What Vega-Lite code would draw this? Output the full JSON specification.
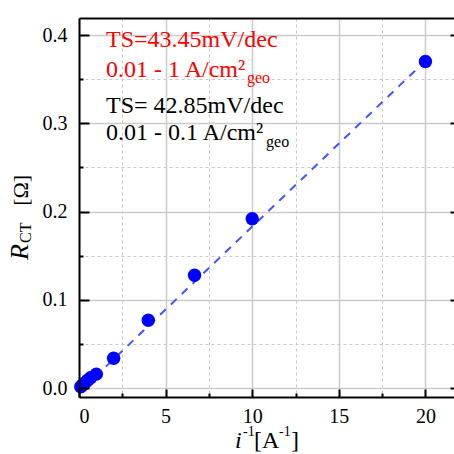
{
  "$schema": "https://vega.github.io/schema/vega-lite/v6.json",
  "width": 375,
  "height": 379,
  "autosize": {"type": "none"},
  "padding": {"left": 79, "top": 18, "right": 0, "bottom": 57},
  "background": "white",
  "config": {
    "view": {"stroke": null},
    "font": "Liberation Serif",
    "text": {"font": "Liberation Serif"},
    "style": {"guide-label": {"font": "Liberation Serif"}},
    "axis": {"labelFont": "Liberation Serif", "title": null}
  },
  "datasets": {
    "pts": [
      {"x": 0.1, "y": 0.0018},
      {"x": 0.2, "y": 0.0035},
      {"x": 0.33, "y": 0.006},
      {"x": 0.5, "y": 0.009},
      {"x": 0.67, "y": 0.012},
      {"x": 1.0, "y": 0.016},
      {"x": 2.0, "y": 0.034},
      {"x": 4.0, "y": 0.077},
      {"x": 6.67, "y": 0.128},
      {"x": 10.0, "y": 0.192},
      {"x": 20.0, "y": 0.37}
    ],
    "fit": [{"x": 0.3, "y": 0.001}, {"x": 19.6, "y": 0.3633}],
    "redBig": [
      {"x": 1.56, "y": 0.3869, "t": "TS=43.45mV/dec"},
      {"x": 1.56, "y": 0.3529, "t": "0.01 - 1 A/cm²"}
    ],
    "redSub": [{"x": 9.7, "y": 0.3457, "t": "geo"}],
    "blackBig": [
      {"x": 1.56, "y": 0.3118, "t": "TS= 42.85mV/dec"},
      {"x": 1.56, "y": 0.2812, "t": "0.01 - 0.1 A/cm²"}
    ],
    "blackSub": [{"x": 10.8, "y": 0.2733, "t": "geo"}],
    "yTitleItalic": [{"x": -2.95, "y": 0.1453, "t": "R"}],
    "yTitleSub": [{"x": -2.8, "y": 0.1646, "t": "CT"}],
    "yTitleRest": [{"x": -2.95, "y": 0.2066, "t": "[Ω]"}],
    "xTitleItalic": [{"x": 9.01, "y": -0.0676, "t": "i"}],
    "xTitleSup": [{"x": 9.47, "y": -0.0545, "t": "-1"}, {"x": 11.55, "y": -0.0545, "t": "-1"}],
    "xTitleRest": [{"x": 10.1, "y": -0.0676, "t": "[A"}, {"x": 12.24, "y": -0.0676, "t": "]"}]
  },
  "resolve": {"axis": {"x": "independent", "y": "independent"}},
  "layer": [
    {
      "data": {"name": "fit"},
      "mark": {"type": "line", "color": "#4455ff", "strokeWidth": 2, "strokeDash": [8, 7]},
      "encoding": {
        "x": {"field": "x", "type": "quantitative", "scale": {"domain": [0, 21.65], "nice": false, "zero": false},
          "axis": {"orient": "bottom", "values": [0, 5, 10, 15, 20], "labels": false, "domain": false, "ticks": false,
            "grid": true, "gridColor": "#cccccc", "gridWidth": 1.5, "zindex": 0}},
        "y": {"field": "y", "type": "quantitative", "scale": {"domain": [-0.0099, 0.4193], "nice": false, "zero": false},
          "axis": {"orient": "left", "values": [0, 0.1, 0.2, 0.3, 0.4], "labels": false, "domain": false, "ticks": false,
            "grid": true, "gridColor": "#cccccc", "gridWidth": 1.5, "zindex": 0}}
      }
    },
    {
      "data": {"name": "pts"},
      "mark": {"type": "point", "filled": true, "color": "#0000ff", "opacity": 1, "size": 180},
      "encoding": {
        "x": {"field": "x", "type": "quantitative",
          "axis": {"orient": "bottom", "values": [2.5, 7.5, 12.5, 17.5], "labels": false, "domain": false,
            "ticks": true, "tickColor": "black", "tickWidth": 2, "tickSize": -4,
            "grid": true, "gridColor": "#c8c8c8", "gridWidth": 1, "gridDash": [3, 3], "zindex": 0}},
        "y": {"field": "y", "type": "quantitative",
          "axis": {"orient": "left", "values": [0.05, 0.15, 0.25, 0.35], "labels": false, "domain": false,
            "ticks": true, "tickColor": "black", "tickWidth": 2, "tickSize": -4,
            "grid": true, "gridColor": "#c8c8c8", "gridWidth": 1, "gridDash": [3, 3], "zindex": 0}}
      }
    },
    {
      "data": {"name": "redBig"},
      "mark": {"type": "text", "align": "left", "baseline": "alphabetic", "font": "Liberation Serif", "fontSize": 24, "color": "#ff0000"},
      "encoding": {
        "x": {"field": "x", "type": "quantitative",
          "axis": {"orient": "top", "values": [], "labels": false, "ticks": false, "grid": false, "domain": true, "domainColor": "black", "domainWidth": 2, "zindex": 1}},
        "y": {"field": "y", "type": "quantitative",
          "axis": {"orient": "right", "values": [0, 0.1, 0.2, 0.3, 0.4], "labels": false, "domain": false, "grid": false,
            "ticks": true, "tickColor": "black", "tickWidth": 2, "tickSize": -4, "zindex": 1}},
        "text": {"field": "t"}
      }
    },
    {
      "data": {"name": "redSub"},
      "mark": {"type": "text", "align": "left", "baseline": "alphabetic", "font": "Liberation Serif", "fontSize": 16, "color": "#ff0000"},
      "encoding": {
        "x": {"field": "x", "type": "quantitative",
          "axis": {"orient": "bottom", "values": [0, 5, 10, 15, 20], "format": "d", "labelFont": "Liberation Serif", "labelFontSize": 20, "labelColor": "black", "labelPadding": 17,
            "domain": true, "domainColor": "black", "domainWidth": 2, "ticks": true, "tickColor": "black", "tickWidth": 2, "tickSize": -8,
            "grid": false, "zindex": 1}},
        "y": {"field": "y", "type": "quantitative",
          "axis": {"orient": "left", "values": [0, 0.1, 0.2, 0.3, 0.4], "format": ".1f", "labelFont": "Liberation Serif", "labelFontSize": 20, "labelColor": "black", "labelPadding": 22,
            "domain": true, "domainColor": "black", "domainWidth": 2, "ticks": true, "tickColor": "black", "tickWidth": 2, "tickSize": -10,
            "grid": false, "zindex": 1}},
        "text": {"field": "t"}
      }
    },
    {
      "data": {"name": "blackBig"},
      "mark": {"type": "text", "align": "left", "baseline": "alphabetic", "font": "Liberation Serif", "fontSize": 24, "color": "black"},
      "encoding": {
        "x": {"field": "x", "type": "quantitative", "axis": null},
        "y": {"field": "y", "type": "quantitative", "axis": null},
        "text": {"field": "t"}
      }
    },
    {
      "data": {"name": "blackSub"},
      "mark": {"type": "text", "align": "left", "baseline": "alphabetic", "font": "Liberation Serif", "fontSize": 16, "color": "black"},
      "encoding": {
        "x": {"field": "x", "type": "quantitative", "axis": null},
        "y": {"field": "y", "type": "quantitative", "axis": null},
        "text": {"field": "t"}
      }
    },
    {
      "data": {"name": "yTitleItalic"},
      "mark": {"type": "text", "align": "left", "baseline": "alphabetic", "font": "Liberation Serif", "fontSize": 26, "fontStyle": "italic", "angle": 270, "color": "black"},
      "encoding": {
        "x": {"field": "x", "type": "quantitative", "axis": null},
        "y": {"field": "y", "type": "quantitative", "axis": null},
        "text": {"field": "t"}
      }
    },
    {
      "data": {"name": "yTitleSub"},
      "mark": {"type": "text", "align": "left", "baseline": "alphabetic", "font": "Liberation Serif", "fontSize": 16, "angle": 270, "color": "black"},
      "encoding": {
        "x": {"field": "x", "type": "quantitative", "axis": null},
        "y": {"field": "y", "type": "quantitative", "axis": null},
        "text": {"field": "t"}
      }
    },
    {
      "data": {"name": "yTitleRest"},
      "mark": {"type": "text", "align": "left", "baseline": "alphabetic", "font": "Liberation Serif", "fontSize": 22, "angle": 270, "color": "black"},
      "encoding": {
        "x": {"field": "x", "type": "quantitative", "axis": null},
        "y": {"field": "y", "type": "quantitative", "axis": null},
        "text": {"field": "t"}
      }
    },
    {
      "data": {"name": "xTitleItalic"},
      "mark": {"type": "text", "align": "left", "baseline": "alphabetic", "font": "Liberation Serif", "fontSize": 24, "fontStyle": "italic", "color": "black"},
      "encoding": {
        "x": {"field": "x", "type": "quantitative", "axis": null},
        "y": {"field": "y", "type": "quantitative", "axis": null},
        "text": {"field": "t"}
      }
    },
    {
      "data": {"name": "xTitleSup"},
      "mark": {"type": "text", "align": "left", "baseline": "alphabetic", "font": "Liberation Serif", "fontSize": 14, "color": "black"},
      "encoding": {
        "x": {"field": "x", "type": "quantitative", "axis": null},
        "y": {"field": "y", "type": "quantitative", "axis": null},
        "text": {"field": "t"}
      }
    },
    {
      "data": {"name": "xTitleRest"},
      "mark": {"type": "text", "align": "left", "baseline": "alphabetic", "font": "Liberation Serif", "fontSize": 24, "color": "black"},
      "encoding": {
        "x": {"field": "x", "type": "quantitative", "axis": null},
        "y": {"field": "y", "type": "quantitative", "axis": null},
        "text": {"field": "t"}
      }
    }
  ]
}
